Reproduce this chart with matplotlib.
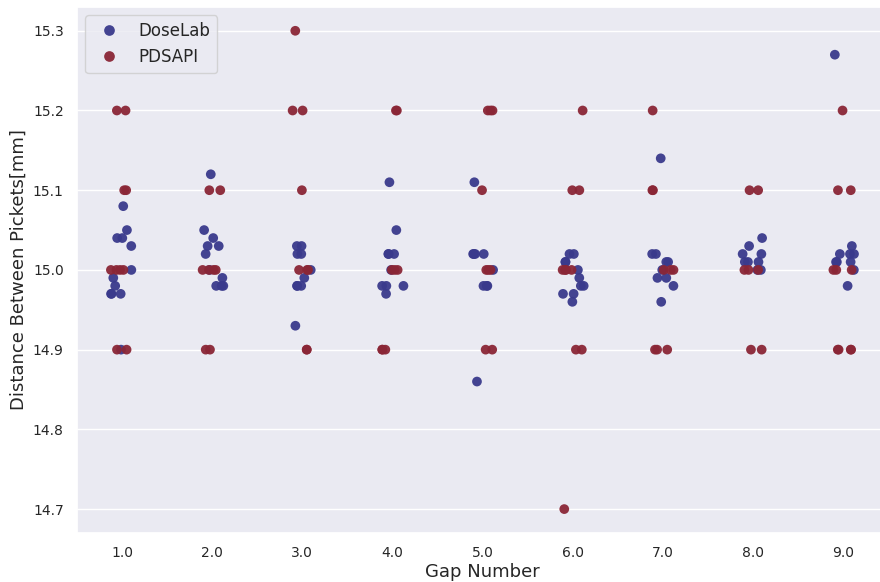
import numpy as np
import pandas as pd
import matplotlib
matplotlib.use("Agg")
import matplotlib.pyplot as plt
import seaborn as sns

gaps = ["1.0", "2.0", "3.0", "4.0", "5.0", "6.0", "7.0", "8.0", "9.0"]

doselab = {
    "1.0": [15.08, 15.05, 15.04, 15.04, 15.03, 15.00, 14.99, 14.98, 14.97, 14.97, 14.97, 14.90],
    "2.0": [15.12, 15.05, 15.04, 15.03, 15.03, 15.02, 15.00, 14.99, 14.98, 14.98, 14.98],
    "3.0": [15.03, 15.03, 15.02, 15.02, 15.00, 14.99, 14.98, 14.98, 14.98, 14.93],
    "4.0": [15.11, 15.05, 15.02, 15.02, 15.02, 15.00, 14.98, 14.98, 14.98, 14.97],
    "5.0": [15.11, 15.02, 15.02, 15.02, 15.02, 15.00, 14.98, 14.98, 14.98, 14.86],
    "6.0": [15.02, 15.02, 15.01, 15.01, 15.00, 14.99, 14.98, 14.98, 14.97, 14.97, 14.96],
    "7.0": [15.14, 15.02, 15.02, 15.01, 15.01, 15.00, 14.99, 14.99, 14.98, 14.96],
    "8.0": [15.04, 15.03, 15.02, 15.02, 15.01, 15.01, 15.01, 15.00, 15.00],
    "9.0": [15.27, 15.03, 15.02, 15.02, 15.02, 15.01, 15.01, 15.01, 15.00, 14.98],
}

pdsapi = {
    "1.0": [15.2, 15.2, 15.1, 15.1, 15.0, 15.0, 15.0, 15.0, 14.9, 14.9],
    "2.0": [15.1, 15.1, 15.0, 15.0, 15.0, 15.0, 14.9, 14.9],
    "3.0": [15.3, 15.2, 15.2, 15.1, 15.0, 15.0, 15.0, 14.9, 14.9],
    "4.0": [15.2, 15.2, 15.0, 15.0, 15.0, 14.9, 14.9, 14.9],
    "5.0": [15.2, 15.2, 15.2, 15.1, 15.0, 15.0, 15.0, 14.9, 14.9],
    "6.0": [15.2, 15.1, 15.1, 15.0, 15.0, 15.0, 15.0, 14.9, 14.9, 14.7],
    "7.0": [15.2, 15.1, 15.1, 15.0, 15.0, 15.0, 14.9, 14.9, 14.9],
    "8.0": [15.1, 15.1, 15.0, 15.0, 15.0, 14.9, 14.9],
    "9.0": [15.2, 15.1, 15.1, 15.0, 15.0, 15.0, 14.9, 14.9, 14.9, 14.9],
}

rows = []
for g in gaps:
    for v in doselab[g]:
        rows.append((g, v, "DoseLab"))
    for v in pdsapi[g]:
        rows.append((g, v, "PDSAPI"))
df = pd.DataFrame(rows, columns=["Gap Number", "Distance", "Source"])

sns.set_theme(style="darkgrid")
plt.rcParams['font.family'] = ['DejaVu Sans']

fig = plt.figure(figsize=(8.8, 5.82), dpi=100)
ax = fig.add_axes([0.0875, 0.0842, 0.9216, 0.904])

np.random.seed(3)
sns.stripplot(data=df, x="Gap Number", y="Distance", hue="Source",
              order=gaps, hue_order=["DoseLab", "PDSAPI"],
              palette=["#3a3a8c", "#8a2636"], jitter=0.13, size=7,
              alpha=0.95, ax=ax, linewidth=0)

ax.set_xlim(-0.5, 8.5)
ax.set_ylim(14.67, 15.33)
ax.set_yticks([14.7, 14.8, 14.9, 15.0, 15.1, 15.2, 15.3])
ax.tick_params(labelsize=10)
ax.set_xlabel("Gap Number", fontsize=13, labelpad=2)
ax.set_ylabel("Distance Between Pickets[mm]", fontsize=13)
leg = ax.legend(loc="upper left", fontsize=12, frameon=True, markerscale=1.1)
leg.set_title(None)

fig.savefig("out.png", dpi=100)
